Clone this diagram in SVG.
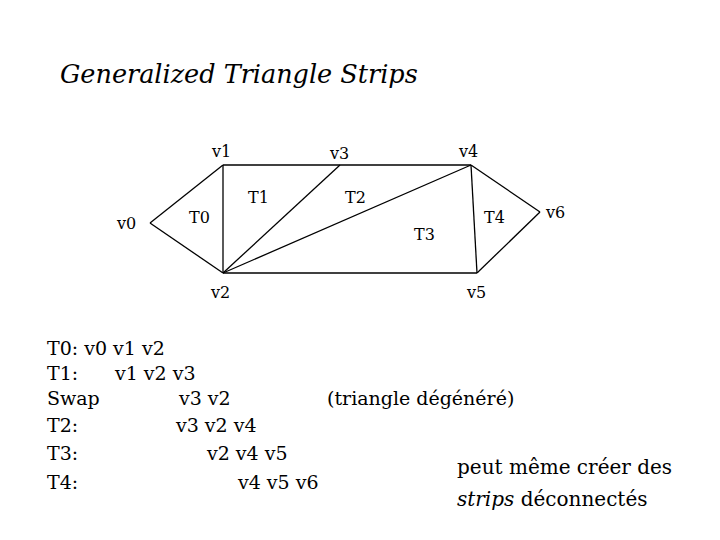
<svg xmlns="http://www.w3.org/2000/svg" width="720" height="540" viewBox="0 0 720 540" font-family="DejaVu Serif, serif">
<style>
.l{font-size:16px}
.b{font-size:19px}
line{stroke:#000;stroke-width:1.3}
</style>
<rect width="720" height="540" fill="#fff"/>
<text x="60" y="83" font-size="25.5" font-style="italic">Generalized Triangle Strips</text>
<g id="connectors">
<line x1="150" y1="223" x2="223" y2="165"/>
<line x1="150" y1="223" x2="223" y2="273"/>
<line x1="223" y1="165" x2="223" y2="273"/>
<line x1="223" y1="165" x2="471" y2="165"/>
<line x1="223" y1="273" x2="477" y2="273"/>
<line x1="223" y1="273" x2="340" y2="165"/>
<line x1="223" y1="273" x2="471" y2="165"/>
<line x1="471" y1="165" x2="477" y2="273"/>
<line x1="471" y1="165" x2="540" y2="212"/>
<line x1="540" y1="212" x2="477" y2="273"/>
</g>
<g id="v0"><text class="l" x="117" y="229">v0</text></g>
<g id="v1"><text class="l" x="212" y="157">v1</text></g>
<g id="v2"><text class="l" x="211" y="298">v2</text></g>
<g id="v3"><text class="l" x="330" y="159">v3</text></g>
<g id="v4"><text class="l" x="459" y="157">v4</text></g>
<g id="v5"><text class="l" x="467" y="298">v5</text></g>
<g id="v6"><text class="l" x="546" y="218">v6</text></g>
<g id="t0"><text class="l" x="189" y="223">T0</text></g>
<g id="t1"><text class="l" x="248" y="203">T1</text></g>
<g id="t2"><text class="l" x="345" y="203">T2</text></g>
<g id="t3"><text class="l" x="414" y="240">T3</text></g>
<g id="t4"><text class="l" x="484" y="223">T4</text></g>
<g id="list">
<text class="b" x="47" y="355">T0: v0 v1 v2</text>
<text class="b" x="47" y="380">T1:</text><text class="b" x="115" y="380">v1 v2 v3</text>
<text class="b" x="47" y="405">Swap</text><text class="b" x="179" y="405">v3 v2</text>
<text class="b" x="327" y="405">(triangle dégénéré)</text>
<text class="b" x="47" y="432">T2:</text><text class="b" x="176" y="432">v3 v2 v4</text>
<text class="b" x="47" y="460">T3:</text><text class="b" x="207" y="460">v2 v4 v5</text>
<text class="b" x="47" y="489">T4:</text><text class="b" x="238" y="489">v4 v5 v6</text>
</g>
<text x="457" y="474" font-size="20">peut même créer des</text>
<text x="457" y="506" font-size="20"><tspan font-style="italic">strips</tspan> déconnectés</text>
</svg>
